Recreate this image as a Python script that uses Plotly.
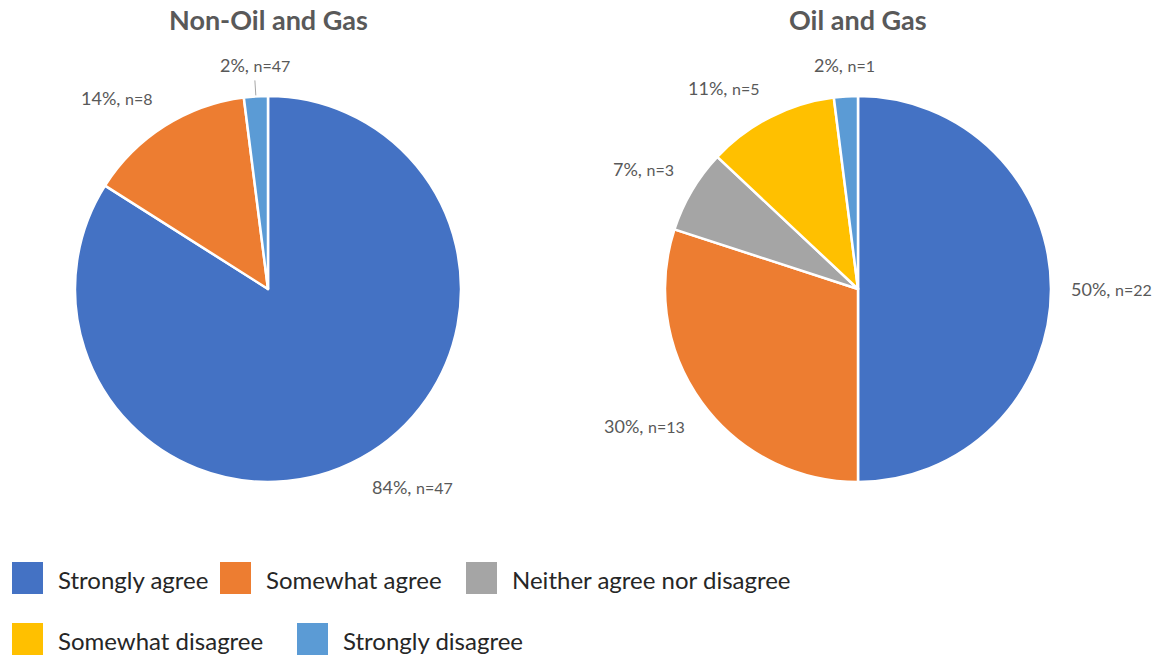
import math
import plotly.graph_objects as go

# Response categories and their colours
categories = ["Strongly agree", "Somewhat agree", "Neither agree nor disagree",
              "Somewhat disagree", "Strongly disagree"]
colors = ["#4472C4", "#ED7D31", "#A5A5A5", "#FFC000", "#5B9BD5"]

# Non-Oil and Gas respondents
non_og_categories = ["Strongly agree", "Somewhat agree", "Strongly disagree"]
non_og_pct = [84, 14, 2]
non_og_n = [47, 8, 47]

# Oil and Gas respondents
og_categories = ["Strongly agree", "Somewhat agree", "Neither agree nor disagree",
                 "Somewhat disagree", "Strongly disagree"]
og_pct = [50, 30, 7, 11, 2]
og_n = [22, 13, 3, 5, 1]

titles = ["Non-Oil and Gas", "Oil and Gas"]

W, H = 1153, 659
FONT = "Lato"
LABEL_GREY = "#595959"


def fx(px):
    return px / W


def fy(py):
    return 1 - py / H


color_of = dict(zip(categories, colors))

# pie geometry (pixels)
R = 193
centers = [(268, 289), (858, 289)]
label_gap = 18
leader_lines = [[False, False, True], [False, False, False, False, False]]

fig = go.Figure()
annotations = []
shapes = []

panels = [
    (non_og_categories, non_og_pct, non_og_n),
    (og_categories, og_pct, og_n),
]

for i, (cats, pct, ns) in enumerate(panels):
    cx, cy = centers[i]
    fig.add_trace(go.Pie(
        labels=cats,
        values=pct,
        sort=False,
        direction="clockwise",
        rotation=0,
        marker=dict(colors=[color_of[c] for c in cats],
                    line=dict(color="white", width=2.5)),
        textinfo="none",
        hoverinfo="label+percent",
        showlegend=False,
        domain=dict(x=[fx(cx - R), fx(cx + R)], y=[fy(cy + R), fy(cy - R)]),
    ))

    # chart title
    annotations.append(dict(
        x=fx(cx), y=fy(20), xref="paper", yref="paper", showarrow=False,
        text=f"<b>{titles[i]}</b>", xanchor="center", yanchor="middle",
        font=dict(family=FONT, size=27, color=LABEL_GREY),
    ))

    # data labels outside each slice
    total = sum(pct)
    cum = 0
    for j, (p, n) in enumerate(zip(pct, ns)):
        mid = (cum + p / 2) / total
        cum += p
        theta = 2 * math.pi * mid
        sx, sy = math.sin(theta), -math.cos(theta)
        ax = cx + (R + label_gap) * sx
        ay = cy + (R + label_gap) * sy
        xa = "left" if sx > 0.3 else ("right" if sx < -0.3 else "center")
        ya = "top" if sy > 0.3 else ("bottom" if sy < -0.3 else "middle")
        annotations.append(dict(
            x=fx(ax), y=fy(ay), xref="paper", yref="paper", showarrow=False,
            text=f"{p}%, <span style='font-size:16px'>n={n}</span>",
            xanchor=xa, yanchor=ya,
            font=dict(family=FONT, size=18, color=LABEL_GREY),
        ))
        if leader_lines[i][j]:
            shapes.append(dict(
                type="line", xref="paper", yref="paper",
                x0=fx(cx + (R + 1) * sx), y0=fy(cy + (R + 1) * sy),
                x1=fx(cx + (R + label_gap - 2) * sx), y1=fy(cy + (R + label_gap - 2) * sy),
                line=dict(color="#A6A6A6", width=1),
            ))

# legend drawn as swatches with labels
legend_pos = [(12, 578), (220, 578), (466, 578), (12, 639), (297, 639)]
SW = 31
for cat, col, (lx, ly) in zip(categories, colors, legend_pos):
    shapes.append(dict(
        type="rect", xref="paper", yref="paper",
        x0=fx(lx), x1=fx(lx + SW), y0=fy(ly + 16), y1=fy(ly - 16),
        fillcolor=col, line=dict(color=col, width=0),
    ))
    annotations.append(dict(
        x=fx(lx + 44), y=fy(ly + 1), xref="paper", yref="paper", showarrow=False,
        text=cat, xanchor="left", yanchor="middle",
        font=dict(family=FONT, size=24, color="#262626"),
    ))

fig.update_layout(
    width=W, height=H,
    margin=dict(l=0, r=0, t=0, b=0),
    paper_bgcolor="white", plot_bgcolor="white",
    annotations=annotations,
    shapes=shapes,
)

fig.write_html("out.html")
